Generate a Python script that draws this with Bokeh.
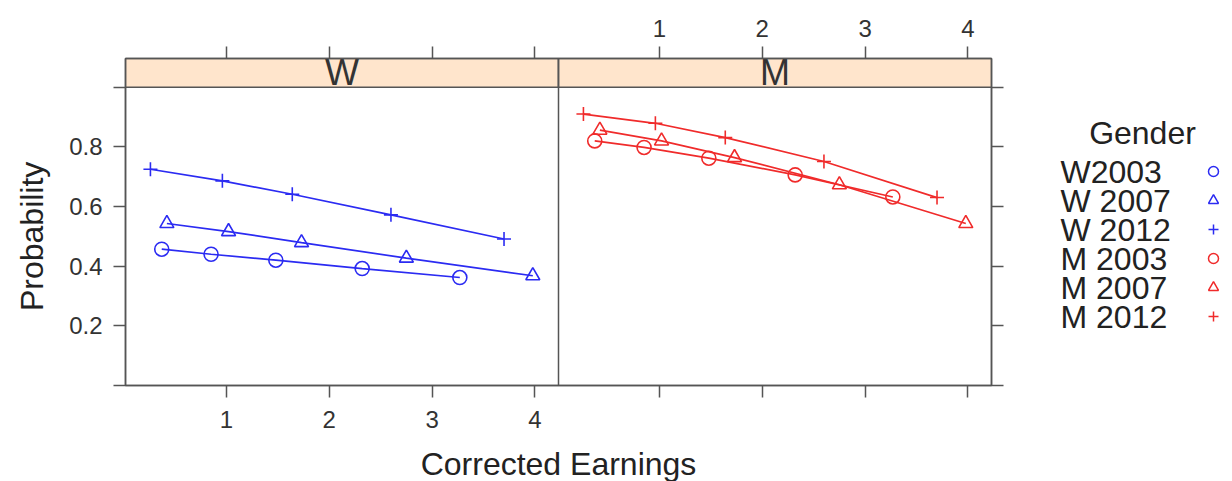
import math
from bokeh.plotting import figure
from bokeh.models import Range1d, FixedTicker, CustomJSTickFormatter, LinearAxis, Span
from bokeh.layouts import row
from bokeh.core.properties import value
from bokeh.embed import file_html
from bokeh.resources import INLINE

# ---------------- data ----------------
panels = ["W", "M"]
x_title = "Corrected Earnings"
y_title = "Probability"
legend_title = "Gender"
legend_labels = ["W2003", "W 2007", "W 2012", "M 2003", "M 2007", "M 2012"]
x_ticks = [1, 2, 3, 4]
y_ticks = [0.0, 0.2, 0.4, 0.6, 0.8, 1.0]

x_2003 = [0.37, 0.85, 1.48, 2.32, 3.27]
x_2007 = [0.42, 1.02, 1.73, 2.75, 3.98]
x_2012 = [0.26, 0.96, 1.64, 2.60, 3.70]

w_2003 = [0.457, 0.440, 0.420, 0.392, 0.362]
w_2007 = [0.543, 0.516, 0.479, 0.427, 0.368]
w_2012 = [0.725, 0.686, 0.641, 0.572, 0.491]
m_2003 = [0.820, 0.798, 0.762, 0.706, 0.632]
m_2007 = [0.856, 0.820, 0.764, 0.673, 0.543]
m_2012 = [0.910, 0.879, 0.831, 0.751, 0.630]

# ---------------- style ----------------
FONT = "Liberation Sans"
BLUE = "#2b2bf2"
RED = "#f02b2b"
AXIS = "#555555"
STRIP = "#ffe5cc"

series = [
    ("W", x_2003, w_2003, "circle", BLUE),
    ("W", x_2007, w_2007, "triangle", BLUE),
    ("W", x_2012, w_2012, "cross", BLUE),
    ("M", x_2003, m_2003, "circle", RED),
    ("M", x_2007, m_2007, "triangle", RED),
    ("M", x_2012, m_2012, "cross", RED),
]

XMIN, XMAX = 0.0175, 4.23
PW = XMAX - XMIN
YTOP = 1.0962

YT_W = 60                      # width of the y-title strip
BL, BT, BR, BB = 125 - YT_W, 58, 30, 60
FW, FH = 866, 327

def bare(fig):
    fig.grid.visible = False
    fig.outline_line_color = None
    fig.background_fill_color = "white"
    fig.border_fill_color = "white"

# ---------------- y title strip ----------------
yt = figure(frame_width=YT_W, frame_height=FH,
            x_range=Range1d(0, YT_W), y_range=Range1d(0, YTOP),
            output_backend="svg", toolbar_location=None,
            x_axis_location=None, y_axis_location=None,
            min_border_left=0, min_border_right=0,
            min_border_top=BT, min_border_bottom=BB)
bare(yt)
# lattice centres the y title on the panel (0..1), not on the strip
yt.text(x=[31], y=[0.5], text=[y_title], angle=math.pi / 2,
        text_font=value(FONT), text_font_size="32px", text_align="center",
        text_baseline="middle", text_color="#222222")

# ---------------- main panels ----------------
p = figure(frame_width=FW, frame_height=FH,
           x_range=Range1d(XMIN, XMIN + 2 * PW), y_range=Range1d(0, YTOP),
           output_backend="svg", toolbar_location=None,
           min_border_left=BL, min_border_top=BT, min_border_right=BR,
           min_border_bottom=BB)
p.extra_x_ranges = {"m": Range1d(XMIN - PW, XMAX)}
p.xgrid.grid_line_color = None
p.ygrid.grid_line_color = None
p.outline_line_color = AXIS
p.outline_line_width = 1.5
p.background_fill_color = "white"
p.border_fill_color = "white"

def style_axis(ax):
    ax.axis_line_color = AXIS
    ax.axis_line_width = 1.5
    ax.major_tick_line_color = AXIS
    ax.major_tick_line_width = 1.5
    ax.major_tick_out = 12
    ax.major_tick_in = 0
    ax.minor_tick_out = 0
    ax.minor_tick_in = 0
    ax.major_label_text_font = FONT
    ax.major_label_text_font_size = "24px"
    ax.major_label_text_color = "#333333"
    ax.major_label_standoff = 11
    ax.axis_label_text_font = FONT
    ax.axis_label_text_font_size = "32px"
    ax.axis_label_text_font_style = "normal"
    ax.axis_label_text_color = "#222222"

# bottom axis (labels only for left panel)
xb = p.xaxis[0]
xb.ticker = FixedTicker(ticks=x_ticks + [t + PW for t in x_ticks])
xb.formatter = CustomJSTickFormatter(code="return tick < %f ? tick.toFixed(0) : '';" % XMAX)
style_axis(xb)
xb.major_label_standoff = 13
xb.axis_label = x_title
xb.axis_label_standoff = 15

# top axis (labels only for right panel)
xt = LinearAxis(x_range_name="m",
                ticker=FixedTicker(ticks=[t - PW for t in x_ticks] + x_ticks),
                formatter=CustomJSTickFormatter(code="return tick > 0 ? tick.toFixed(0) : '';"))
style_axis(xt)
xt.major_label_standoff = 10
p.add_layout(xt, "above")

# left axis
yl = p.yaxis[0]
yl.ticker = FixedTicker(ticks=y_ticks)
yl.formatter = CustomJSTickFormatter(code="return (tick > 0.05 && tick < 0.95) ? tick.toFixed(1) : '';")
style_axis(yl)
yl.major_label_orientation = "horizontal"

# right axis (ticks only)
yr = LinearAxis(ticker=FixedTicker(ticks=y_ticks),
                formatter=CustomJSTickFormatter(code="return '';"))
style_axis(yr)
p.add_layout(yr, "right")

# strips
p.quad(left=[XMIN], right=[XMAX], bottom=[1.0], top=[YTOP],
       fill_color=STRIP, line_color=AXIS, line_width=1.5)
p.quad(left=[XMIN], right=[XMAX], bottom=[1.0], top=[YTOP],
       fill_color=STRIP, line_color=AXIS, line_width=1.5, x_range_name="m")
p.text(x=[(XMIN + XMAX) / 2], y=[(1.0 + YTOP) / 2], text=[panels[0]],
       text_font=value(FONT), text_font_size="36px", text_align="center",
       text_baseline="middle", text_color="#333333")
p.text(x=[(XMIN + XMAX) / 2], y=[(1.0 + YTOP) / 2], text=[panels[1]],
       text_font=value(FONT), text_font_size="36px", text_align="center",
       text_baseline="middle", text_color="#333333", x_range_name="m")

# divider
p.add_layout(Span(location=XMAX, dimension="height", line_color=AXIS, line_width=1.5))

# data
for panel, xs, ys, mk, col in series:
    rn = "default" if panel == "W" else "m"
    p.line(xs, ys, line_color=col, line_width=1.7, x_range_name=rn)
    p.scatter(xs, ys, marker=mk, size=14, line_color=col, fill_color=None,
              line_width=1.6, x_range_name=rn)

# ---------------- legend panel (coordinates = page pixels) ----------------
X0 = YT_W + BL + FW + BR
LW = 207
lg = figure(frame_width=LW, frame_height=FH,
            x_range=Range1d(X0, X0 + LW), y_range=Range1d(BT + FH, BT),
            output_backend="svg", toolbar_location=None,
            x_axis_location=None, y_axis_location=None,
            min_border_left=0, min_border_right=0,
            min_border_top=BT, min_border_bottom=BB)
bare(lg)

row_y = [171 + 29 * i for i in range(len(legend_labels))]
lg.text(x=[1142], y=[132], text=[legend_title], text_font=value(FONT),
        text_font_size="32px", text_align="center", text_baseline="middle",
        text_color="#222222")
lg.text(x=[1060] * len(legend_labels), y=row_y, text=legend_labels,
        text_font=value(FONT), text_font_size="32px", text_align="left",
        text_baseline="middle", text_color="#222222")
for i, (panel, xs, ys, mk, col) in enumerate(series):
    lg.scatter([1213], [row_y[i]], marker=mk, size=10, line_color=col,
               fill_color=None, line_width=1.5)

layout = row(yt, p, lg)
open("out.html", "w").write(file_html(layout, INLINE))
